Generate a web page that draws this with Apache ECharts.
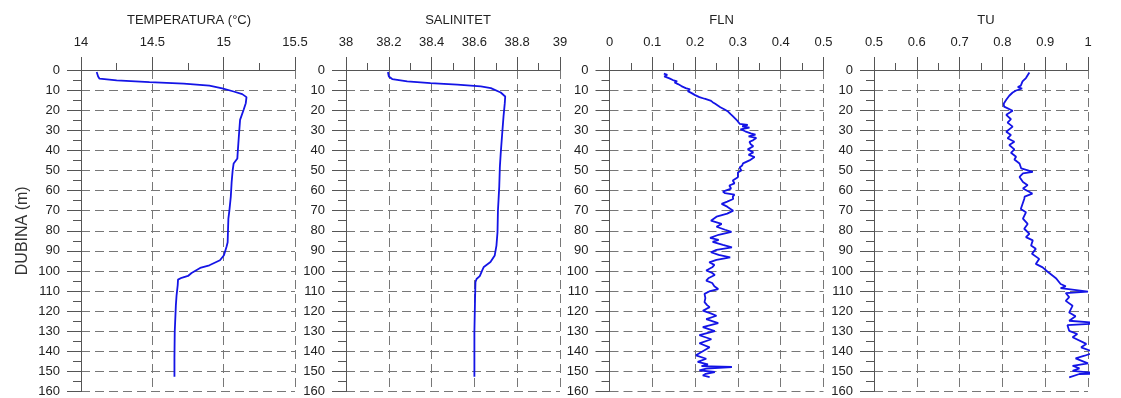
<!DOCTYPE html>
<html>
<head>
<meta charset="utf-8">
<script src="https://cdn.jsdelivr.net/npm/echarts@6/dist/echarts.min.js"></script>
<style>
html,body{margin:0;padding:0;background:#fff;}
#c{width:1121px;height:398px;}
</style>
</head>
<body>
<div id="c"></div>
<script>
// ---- data ----
var panelTitles = ['TEMPERATURA (°C)', 'SALINITET', 'FLN', 'TU'];
var xMins = [14, 38, 0, 0.5];
var xMaxs = [15.5, 39, 0.5, 1];
var xIntervals = [0.5, 0.2, 0.1, 0.1];
var depthMin = 0, depthMax = 160, depthInterval = 10;
var depthName = 'DUBINA (m)';

var temp_depth = [1, 3.2, 4.3, 5.2, 6, 6.8, 7.8, 9.2, 10.7, 12, 13.5, 16.5, 19.8, 24.8, 31.5, 36.5, 41.5, 44, 46.5, 50, 55.7, 63, 70, 74, 80.7, 85.7, 88, 92.2, 94.7, 97.2, 98.5, 101, 102.5, 103.4, 104.3, 107, 112, 117, 130.3, 143.5, 152.7];
var temp_value = [14.11, 14.12, 14.13, 14.25, 14.48, 14.72, 14.9, 14.99, 15.07, 15.13, 15.16, 15.155, 15.14, 15.115, 15.108, 15.103, 15.098, 15.096, 15.07, 15.063, 15.056, 15.05, 15.04, 15.033, 15.03, 15.028, 15.02, 15.002, 14.974, 14.9, 14.835, 14.775, 14.75, 14.705, 14.68, 14.678, 14.67, 14.665, 14.657, 14.655, 14.655];

var sal_depth = [1, 3.2, 4.5, 5.7, 6.5, 7.3, 8.2, 9, 11.2, 13.2, 16.5, 23.2, 31.5, 41.5, 48.2, 58.2, 64.2, 70, 80.7, 87.4, 92.3, 95.6, 98, 99.8, 102.6, 104, 105.5, 113.8, 130.3, 152.7];
var sal_value = [38.196, 38.2, 38.216, 38.286, 38.395, 38.52, 38.63, 38.677, 38.723, 38.744, 38.742, 38.736, 38.73, 38.723, 38.719, 38.716, 38.713, 38.71, 38.708, 38.703, 38.695, 38.675, 38.644, 38.636, 38.625, 38.61, 38.605, 38.603, 38.6, 38.6];

var fln_depth = [1.8, 2.4, 3.2, 4.2, 5.0, 5.6, 6.2, 7.0, 8.0, 9.0, 9.6, 10.5, 11.5, 12.5, 13.5, 14.3, 15.2, 16.0, 16.8, 17.5, 18.5, 19.5, 20.7, 22, 23, 24.5, 25.6, 26.8, 27.3, 28, 28.7, 29.5, 30.5, 31.5, 32.2, 33, 33.8, 35, 35.7, 37, 37.9, 39.5, 41, 42.2, 43.3, 45, 46.5, 47.5, 48.5, 50, 51, 51.8, 53.4, 55, 56.4, 57.5, 59, 60.5, 61.3, 62, 63, 64.2, 65.5, 66.6, 68, 70, 71.5, 73, 75, 76.6, 78, 79.5, 80.5, 82, 83.5, 84.5, 85.5, 87, 88.3, 89.5, 90.7, 92, 93.3, 94.5, 95.7, 97, 98, 99.8, 101, 102, 103.5, 104.8, 106, 107.6, 109, 110, 111.4, 113.5, 115.5, 117, 118, 119.8, 121, 122.3, 124, 126, 128, 130, 132, 134, 136, 138, 140, 142, 143.7, 145.3, 146.5, 147.4, 147.8, 148.6, 149.5, 150.3, 151.2, 152, 152.8];
var fln_value = [0.127, 0.135, 0.128, 0.14, 0.148, 0.158, 0.152, 0.16, 0.168, 0.178, 0.188, 0.183, 0.192, 0.2, 0.21, 0.222, 0.236, 0.241, 0.247, 0.244, 0.259, 0.268, 0.277, 0.283, 0.288, 0.295, 0.3, 0.304, 0.323, 0.31, 0.327, 0.306, 0.317, 0.33, 0.341, 0.325, 0.343, 0.335, 0.327, 0.33, 0.336, 0.323, 0.336, 0.325, 0.339, 0.327, 0.312, 0.31, 0.304, 0.308, 0.3, 0.296, 0.3, 0.288, 0.292, 0.28, 0.284, 0.265, 0.27, 0.292, 0.288, 0.289, 0.275, 0.262, 0.275, 0.289, 0.275, 0.25, 0.237, 0.262, 0.25, 0.27, 0.285, 0.255, 0.235, 0.255, 0.241, 0.265, 0.286, 0.25, 0.237, 0.255, 0.282, 0.25, 0.233, 0.245, 0.241, 0.226, 0.24, 0.246, 0.232, 0.226, 0.24, 0.245, 0.254, 0.235, 0.222, 0.224, 0.222, 0.228, 0.234, 0.218, 0.235, 0.25, 0.226, 0.254, 0.218, 0.246, 0.21, 0.238, 0.21, 0.234, 0.218, 0.202, 0.226, 0.206, 0.23, 0.215, 0.286, 0.226, 0.21, 0.246, 0.225, 0.218, 0.234];

var tu_depth = [1.2, 4, 5.7, 7.8, 8.5, 9.2, 10.2, 11.2, 12.8, 14.8, 16.8, 18.2, 20.3, 22.3, 24.5, 26.2, 28.2, 30.7, 32.3, 34, 35.7, 37.3, 39.5, 41.2, 43.2, 44.5, 46.5, 49, 50.7, 51.5, 53.2, 55.7, 57.3, 59, 61.5, 63, 64.2, 69.2, 70.8, 74, 76.6, 79, 81.5, 83.2, 84.8, 87.3, 89, 91.5, 94, 96.5, 98.2, 100.3, 102.3, 103.6, 106.5, 107.6, 108.6, 110.3, 111, 113, 114.9, 117.3, 120.7, 122.6, 124.8, 126, 127, 129.8, 131.4, 133, 136.3, 138, 140.5, 142.2, 143.5, 146, 147.2, 148.5, 149.7, 150.5, 150.8, 151.3, 153];
var tu_value = [0.863, 0.855, 0.847, 0.843, 0.836, 0.846, 0.832, 0.824, 0.816, 0.809, 0.803, 0.804, 0.824, 0.809, 0.82, 0.812, 0.824, 0.809, 0.82, 0.812, 0.828, 0.816, 0.828, 0.82, 0.832, 0.828, 0.84, 0.844, 0.871, 0.848, 0.84, 0.848, 0.859, 0.848, 0.87, 0.852, 0.851, 0.843, 0.855, 0.848, 0.859, 0.851, 0.863, 0.855, 0.871, 0.867, 0.878, 0.869, 0.886, 0.878, 0.894, 0.905, 0.917, 0.925, 0.936, 0.948, 0.936, 1.0, 0.948, 0.956, 0.948, 0.964, 0.956, 0.971, 0.956, 1.031, 0.952, 0.956, 0.975, 0.964, 0.996, 0.984, 1.015, 0.992, 0.971, 1.0, 0.964, 0.98, 0.964, 1.0, 1.075, 0.98, 0.956];

var depths = [temp_depth, sal_depth, fln_depth, tu_depth];
var values = [temp_value, sal_value, fln_value, tu_value];

// ---- layout ----
var gridLefts = [81, 346, 609.5, 874];
var gridWidth = 214, gridTop = 70, gridHeight = 322;
var axisColor = '#555';
var gridColor = '#777';
var lineColor = '#1414e6';
var font = 'Liberation Sans, Arial, sans-serif';

var grids = [], xAxes = [], yAxes = [], series = [], titles = [];
for (var i = 0; i < 4; i++) {
  grids.push({left: gridLefts[i], top: gridTop, width: gridWidth, height: gridHeight, containLabel: false});
  titles.push({
    text: panelTitles[i],
    left: gridLefts[i] + gridWidth / 2 + (i === 0 ? -4 : 0),
    top: 9,
    textAlign: 'center',
    textStyle: {fontFamily: font, fontSize: 13, fontWeight: 'normal', color: '#222'}
  });
  xAxes.push({
    type: 'value', gridIndex: i, position: 'top',
    min: xMins[i], max: xMaxs[i], interval: xIntervals[i],
    axisLine: {show: true, onZero: false, lineStyle: {color: axisColor, width: 1}},
    axisTick: {show: true, length: 13, lineStyle: {color: axisColor}},
    minorTick: {show: true, splitNumber: 2, length: 7, lineStyle: {color: axisColor}},
    axisLabel: {margin: 21, fontFamily: font, fontSize: 13, color: '#222'},
    splitLine: {show: true, lineStyle: {color: gridColor, type: [9, 5], width: 1}}
  });
  yAxes.push({
    type: 'value', gridIndex: i, inverse: true,
    min: depthMin, max: depthMax, interval: depthInterval,
    name: i === 0 ? depthName : '',
    nameLocation: 'middle', nameGap: 50,
    nameTextStyle: {fontFamily: font, fontSize: 16, color: '#333'},
    axisLine: {show: true, onZero: false, lineStyle: {color: axisColor, width: 1}},
    axisTick: {show: true, length: 14, lineStyle: {color: axisColor}},
    minorTick: {show: true, splitNumber: 2, length: 8, lineStyle: {color: axisColor}},
    axisLabel: {margin: 21, fontFamily: font, fontSize: 13, color: '#222'},
    splitLine: {show: true, lineStyle: {color: gridColor, type: [9, 5], width: 1}}
  });
  var d = [];
  for (var k = 0; k < depths[i].length; k++) d.push([values[i][k], depths[i][k]]);
  series.push({
    type: 'line', xAxisIndex: i, yAxisIndex: i, data: d,
    showSymbol: false, symbol: 'none', clip: false, animation: false,
    lineStyle: {color: lineColor, width: 1.8}
  });
}

var chart = echarts.init(document.getElementById('c'), null, {renderer: 'canvas'});
chart.setOption({
  backgroundColor: '#fff',
  animation: false,
  title: titles,
  grid: grids,
  xAxis: xAxes,
  yAxis: yAxes,
  series: series
});
</script>
</body>
</html>
